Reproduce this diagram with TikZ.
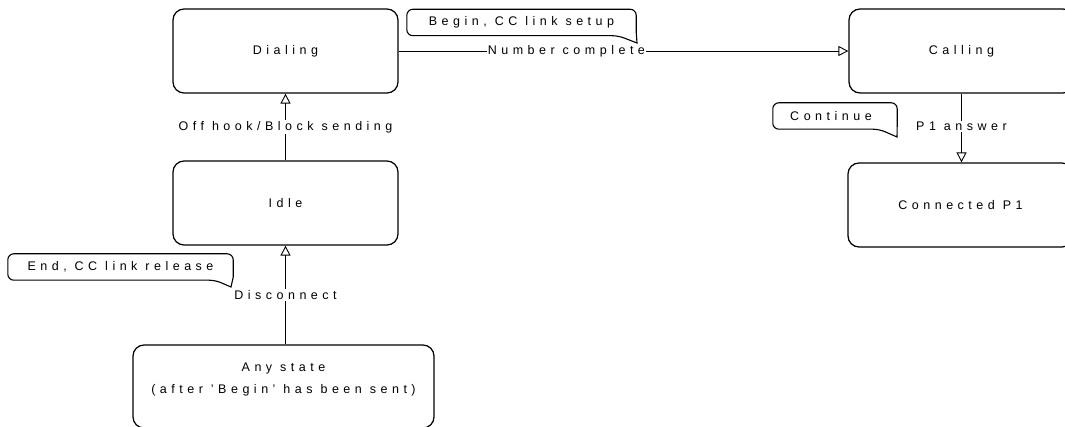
\documentclass[tikz,border=0pt]{standalone}
\usepackage{fontspec}
\setmainfont{Liberation Sans}[LetterSpace=36]
\usetikzlibrary{arrows.meta}
\begin{document}
\begin{tikzpicture}[x=1pt,y=-1pt,
  font=\fontsize{12.5}{22}\selectfont,
  state/.style={draw, line width=1.25pt, rounded corners=11pt, minimum width=225pt, minimum height=84pt, inner sep=0pt, align=center},
  conn/.style={line width=0.9pt, -{Triangle[open, length=10pt, width=10pt, line width=0.9pt]}},
  lbl/.style={fill=white, inner sep=1pt},
  ctext/.style={inner sep=0pt, minimum height=26pt},
  cline/.style={line width=1.1pt, rounded corners=6pt}]
\useasboundingbox (0,0) rectangle (1065,427);
% states
\node[state] (dialing) at (285.5,51) {Dialing};
\node[state] (idle) at (285.5,203) {Idle};
\node[state] (calling) at (961.5,51) {Calling};
\node[state] (connected) at (960.5,205) {Connected P1};
\node[state, minimum width=301pt, minimum height=83pt] (any) at (283.5,386.5) {};
\node[align=center] (anytext) at (283.5,379) {Any state\\(after 'Begin' has been sent)};
% connectors
\draw[conn] (any.north -| idle.south) -- node[lbl, pos=0.5] {Disconnect} (idle.south);
\draw[conn] (idle.north) -- node[lbl, pos=0.5] {Off hook/Block sending} (dialing.south);
\draw[conn] (dialing.east) -- node[lbl, pos=0.373] {Number complete} (calling.west);
\draw[conn] (calling.south) -- node[lbl, pos=0.48] {P1 answer} (calling.south |- connected.north);
% callouts
\node[ctext, minimum width=229pt] (cbegin) at (521.5,22.5) {Begin, CC link setup};
\coordinate (tbegin) at (637,43);
\draw[cline] ([yshift=4pt]cbegin.south east) -- (cbegin.north east) -- (cbegin.north west) -- (cbegin.south west) -- ([xshift=-18pt]cbegin.south east) [sharp corners] -- (tbegin) -- cycle;
\node[ctext, minimum width=124pt] (ccont) at (835,116) {Continue\hspace*{8pt}};
\coordinate (tcont) at (897,137);
\draw[cline] ([yshift=3pt]ccont.south east) -- (ccont.north east) -- (ccont.north west) -- (ccont.south west) -- ([xshift=-18pt]ccont.south east) [sharp corners] -- (tcont) -- cycle;
\node[ctext, minimum width=225pt] (cend) at (120.5,267) {End, CC link release};
\coordinate (tend) at (231,287);
\draw[cline] ([yshift=3pt]cend.south east) -- (cend.north east) -- (cend.north west) -- (cend.south west) -- ([xshift=-18pt]cend.south east) [sharp corners] -- (tend) -- cycle;
\end{tikzpicture}
\end{document}
